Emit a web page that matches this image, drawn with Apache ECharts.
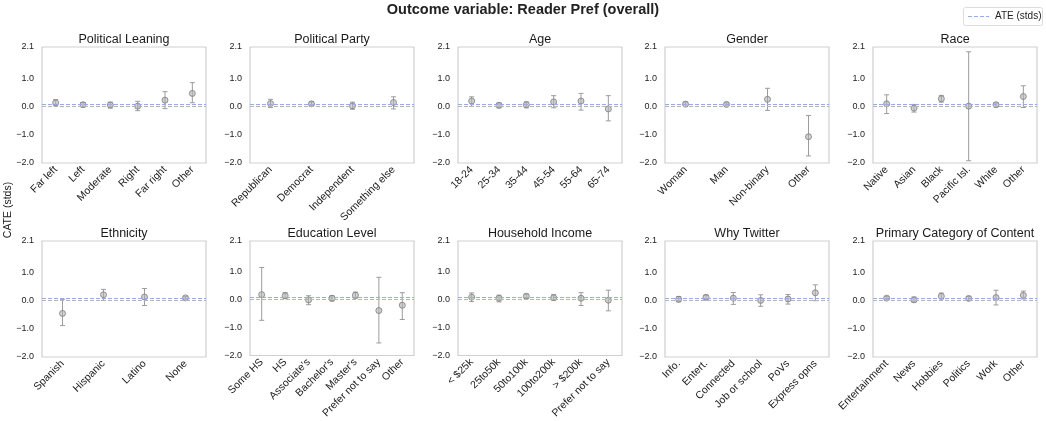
<!DOCTYPE html>
<html><head><meta charset="utf-8">
<script src="https://cdn.jsdelivr.net/npm/echarts@6/dist/echarts.min.js"></script>
<style>html,body{margin:0;padding:0;background:#fff}#c{width:1046px;height:421px}</style>
</head><body><div id="c"></div><script>
// ---- data ----
const mainTitle = 'Outcome variable: Reader Pref (overall)';
const ATE = 0.07;
const yTicks = [-2, -1, 0, 1, 2.1];

const leaningCats = ['Far left', 'Left', 'Moderate', 'Right', 'Far right', 'Other'];
const leaningEst  = [0.13, 0.06, 0.05, 0.01, 0.22, 0.46];
const leaningLow  = [0.02, -0.02, -0.06, -0.15, -0.08, 0.13];
const leaningHigh = [0.24, 0.14, 0.15, 0.18, 0.52, 0.84];

const partyCats = ['Republican', 'Democrat', 'Independent', 'Something else'];
const partyEst  = [0.10, 0.09, 0.02, 0.14];
const partyLow  = [-0.04, 0.02, -0.10, -0.09];
const partyHigh = [0.25, 0.16, 0.15, 0.34];

const ageCats = ['18-24', '25-34', '35-44', '45-54', '55-64', '65-74'];
const ageEst  = [0.19, 0.04, 0.06, 0.16, 0.19, -0.09];
const ageLow  = [0.00, -0.05, -0.05, -0.05, -0.13, -0.51];
const ageHigh = [0.34, 0.12, 0.16, 0.38, 0.46, 0.38];

const genderCats = ['Woman', 'Man', 'Non-binary', 'Other'];
const genderEst  = [0.08, 0.07, 0.25, -1.07];
const genderLow  = [0.00, 0.01, -0.14, -1.75];
const genderHigh = [0.16, 0.13, 0.64, -0.32];

const raceCats = ['Native', 'Asian', 'Black', 'Pacific Isl.', 'White', 'Other'];
const raceEst  = [0.09, -0.06, 0.27, 0.01, 0.06, 0.35];
const raceLow  = [-0.25, -0.20, 0.15, -1.92, -0.01, -0.04];
const raceHigh = [0.41, 0.07, 0.39, 1.93, 0.12, 0.73];

const ethnicityCats = ['Spanish', 'Hispanic', 'Latino', 'None'];
const ethnicityEst  = [-0.46, 0.20, 0.12, 0.09];
const ethnicityLow  = [-0.89, 0.00, -0.18, 0.05];
const ethnicityHigh = [0.04, 0.39, 0.42, 0.14];

const educationCats = ['Some HS', 'HS', "Associate's", "Bachelor's", "Master's", 'Prefer not to say', 'Other'];
const educationEst  = [0.18, 0.14, -0.01, 0.05, 0.16, -0.39, -0.20];
const educationLow  = [-0.74, 0.05, -0.18, -0.05, 0.05, -1.55, -0.71];
const educationHigh = [1.15, 0.25, 0.14, 0.14, 0.27, 0.80, 0.25];

const incomeCats = ['< $25k', '25to50k', '50to100k', '100to200k', '> $200k', 'Prefer not to say'];
const incomeEst  = [0.09, 0.05, 0.12, 0.07, 0.05, -0.02];
const incomeLow  = [-0.07, -0.08, 0.04, -0.02, -0.21, -0.40];
const incomeHigh = [0.24, 0.16, 0.20, 0.18, 0.25, 0.34];

const twitterCats = ['Info.', 'Entert.', 'Connected', 'Job or school', 'PoVs', 'Express opns'];
const twitterEst  = [0.04, 0.11, 0.08, 0.00, 0.05, 0.27];
const twitterLow  = [-0.05, 0.04, -0.14, -0.21, -0.13, -0.01];
const twitterHigh = [0.14, 0.18, 0.28, 0.20, 0.21, 0.55];

const contentCats = ['Entertainment', 'News', 'Hobbies', 'Politics', 'Work', 'Other'];
const contentEst  = [0.08, 0.02, 0.15, 0.07, 0.10, 0.18];
const contentLow  = [0.02, -0.06, 0.05, 0.00, -0.16, 0.05];
const contentHigh = [0.14, 0.12, 0.26, 0.14, 0.36, 0.33];

const panels = [
  {title: 'Political Leaning', cats: leaningCats, est: leaningEst, low: leaningLow, high: leaningHigh},
  {title: 'Political Party', cats: partyCats, est: partyEst, low: partyLow, high: partyHigh},
  {title: 'Age', cats: ageCats, est: ageEst, low: ageLow, high: ageHigh},
  {title: 'Gender', cats: genderCats, est: genderEst, low: genderLow, high: genderHigh},
  {title: 'Race', cats: raceCats, est: raceEst, low: raceLow, high: raceHigh},
  {title: 'Ethnicity', cats: ethnicityCats, est: ethnicityEst, low: ethnicityLow, high: ethnicityHigh},
  {title: 'Education Level', cats: educationCats, est: educationEst, low: educationLow, high: educationHigh},
  {title: 'Household Income', cats: incomeCats, est: incomeEst, low: incomeLow, high: incomeHigh},
  {title: 'Why Twitter', cats: twitterCats, est: twitterEst, low: twitterLow, high: twitterHigh},
  {title: 'Primary Category of Content', cats: contentCats, est: contentEst, low: contentLow, high: contentHigh}
];

// ---- layout ----
const FONT = '"Liberation Sans", Arial, Helvetica, sans-serif';
const colLefts = [42, 250, 458, 665, 873];
const rowTops = [47, 241];
const gW = 164, gH = 116;
const barColor = '#9c9c9c';

const grids = [], xAxes = [], yAxes = [], series = [], titles = [];
titles.push({text: mainTitle, left: 523, top: 2, textAlign: 'center', padding: 0,
  textStyle: {fontFamily: FONT, fontSize: 14.5, fontWeight: 'bold', color: '#222'}});

panels.forEach((p, i) => {
  const r = Math.floor(i / 5), c = i % 5;
  const left = colLefts[c], top = rowTops[r];
  grids.push({left: left, top: top, width: gW, height: gH, show: true,
    borderColor: '#cfcfcf', borderWidth: 1.2, backgroundColor: '#fff', containLabel: false});
  titles.push({text: p.title, left: left + gW / 2, top: top - 14, textAlign: 'center', padding: 0,
    textStyle: {fontFamily: FONT, fontSize: 12.5, fontWeight: 'normal', color: '#1a1a1a'}});
  xAxes.push({type: 'category', gridIndex: i, data: p.cats, boundaryGap: true,
    axisLine: {show: false}, axisTick: {show: false}, splitLine: {show: false},
    axisLabel: {rotate: 45, interval: 0, fontFamily: FONT, fontSize: 10.5, color: '#222', margin: 5}});
  yAxes.push({type: 'value', gridIndex: i, min: -2, max: 2.1, interval: 1,
    axisLine: {show: false}, axisTick: {show: false}, splitLine: {show: false},
    axisLabel: {customValues: yTicks, fontFamily: FONT, fontSize: 9, color: '#222', margin: 8,
      formatter: v => (Math.abs(v - 2) < 1e-9 ? '' : v.toFixed(1).replace('-', '\u2212'))}});
  series.push({
    type: 'custom', xAxisIndex: i, yAxisIndex: i, silent: true, z: 3,
    data: p.cats.map((_, k) => [k, p.low[k], p.high[k]]),
    encode: {x: 0, y: [1, 2]},
    renderItem: (params, api) => {
      const x = api.value(0);
      const a = api.coord([x, api.value(1)]);
      const b = api.coord([x, api.value(2)]);
      const cap = 2.5;
      const st = {stroke: barColor, lineWidth: 1};
      return {type: 'group', children: [
        {type: 'line', shape: {x1: a[0], y1: a[1], x2: b[0], y2: b[1]}, style: st},
        {type: 'line', shape: {x1: a[0] - cap, y1: a[1], x2: a[0] + cap, y2: a[1]}, style: st},
        {type: 'line', shape: {x1: b[0] - cap, y1: b[1], x2: b[0] + cap, y2: b[1]}, style: st}
      ]};
    }
  });
  series.push({
    type: 'scatter', xAxisIndex: i, yAxisIndex: i, data: p.est, symbol: 'circle', symbolSize: 6, z: 4,
    itemStyle: {color: 'rgba(175,175,175,0.7)', borderColor: '#7d7d7d', borderWidth: 1},
    silent: true,
    markLine: {silent: true, symbol: ['none', 'none'], label: {show: false}, animation: false,
      data: [
        {yAxis: 0, lineStyle: {color: '#b5b5b5', type: [4, 2], width: 1}},
        {yAxis: ATE, lineStyle: {color: '#9aa8f0', type: [4, 2], width: 1}}
      ]}
  });
});

const chart = echarts.init(document.getElementById('c'), null, {renderer: 'canvas'});
chart.setOption({
  animation: false,
  backgroundColor: '#fff',
  title: titles,
  grid: grids, xAxis: xAxes, yAxis: yAxes, series: series,
  graphic: [
    {type: 'text', x: 8, y: 210, rotation: Math.PI / 2,
      style: {text: 'CATE (stds)', fontFamily: FONT, fontSize: 10.5, fill: '#222', textAlign: 'center', textVerticalAlign: 'middle'}},
    {type: 'rect', shape: {x: 963.5, y: 7.5, width: 79, height: 18, r: 2},
      style: {fill: '#fff', stroke: '#dddddd', lineWidth: 1}},
    {type: 'line', shape: {x1: 968, y1: 16.5, x2: 989, y2: 16.5},
      style: {stroke: '#9aa8f0', lineWidth: 1, lineDash: [4, 2]}},
    {type: 'text', x: 995, y: 16.5,
      style: {text: 'ATE (stds)', fontFamily: FONT, fontSize: 10, fill: '#222', textVerticalAlign: 'middle'}}
  ]
});
</script></body></html>
